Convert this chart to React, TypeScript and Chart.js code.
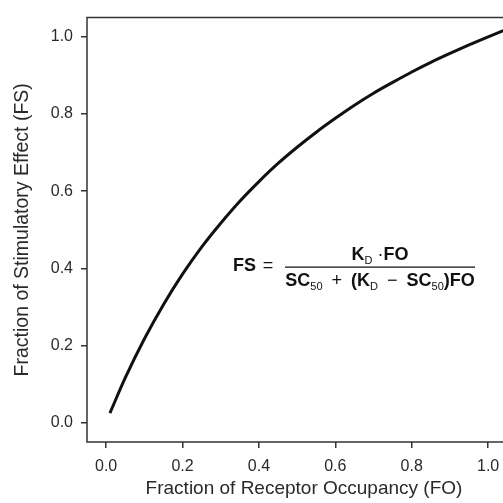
import React, { useEffect, useRef } from "react";
import { Chart, registerables } from "chart.js";

Chart.register(...registerables);

// Data
const FO_VALUES = [0.01, 0.05, 0.1, 0.15, 0.2, 0.25, 0.3, 0.35, 0.4, 0.45, 0.5, 0.55, 0.6, 0.65, 0.7, 0.75, 0.8, 0.85, 0.9, 0.95, 1.0, 1.05];
const FS_VALUES = [0.025, 0.116, 0.217, 0.306, 0.385, 0.455, 0.517, 0.574, 0.625, 0.672, 0.714, 0.753, 0.789, 0.823, 0.854, 0.882, 0.909, 0.934, 0.957, 0.979, 1.0, 1.02];
const X_TICKS = [0.0, 0.2, 0.4, 0.6, 0.8, 1.0];
const Y_TICKS = [0.0, 0.2, 0.4, 0.6, 0.8, 1.0];
const X_TITLE = "Fraction of Receptor Occupancy (FO)";
const Y_TITLE = "Fraction of Stimulatory Effect (FS)";
const ANNOT_POS = { x: 0.717, y: 0.403 };

const FONT = "'Liberation Sans', Arial, Helvetica, sans-serif";
const AXIS_COLOR = "#333333";
const TEXT_COLOR = "#2a2a2a";

type Piece = { t: string; f: string; dy?: number };

const BOLD = `bold 18px ${FONT}`;
const REG = `18px ${FONT}`;
const SUB = `11px ${FONT}`;

const NUMERATOR: Piece[] = [
  { t: "K", f: BOLD },
  { t: "D", f: SUB, dy: 4 },
  { t: " \u00b7", f: REG },
  { t: "FO", f: BOLD },
];
const DENOMINATOR: Piece[] = [
  { t: "SC", f: BOLD },
  { t: "50", f: SUB, dy: 4 },
  { t: "\u2002+\u2002", f: REG },
  { t: "(K", f: BOLD },
  { t: "D", f: SUB, dy: 4 },
  { t: "\u2002\u2212\u2002", f: REG },
  { t: "SC", f: BOLD },
  { t: "50", f: SUB, dy: 4 },
  { t: ")FO", f: BOLD },
];

function drawPieces(ctx: CanvasRenderingContext2D, pieces: Piece[], cx: number, baseline: number) {
  let total = 0;
  for (const p of pieces) {
    ctx.font = p.f;
    total += ctx.measureText(p.t).width;
  }
  let x = cx - total / 2;
  ctx.textAlign = "left";
  ctx.textBaseline = "alphabetic";
  for (const p of pieces) {
    ctx.font = p.f;
    ctx.fillText(p.t, x, baseline + (p.dy || 0));
    x += ctx.measureText(p.t).width;
  }
  return total;
}

const framePlugin = {
  id: "frameAndFormula",
  afterDatasetsDraw(chart: any) {
    const { ctx, chartArea, scales } = chart;
    ctx.save();
    // frame: left, top, bottom
    ctx.strokeStyle = AXIS_COLOR;
    ctx.lineWidth = 1.5;
    ctx.beginPath();
    ctx.moveTo(chartArea.right + 2, chartArea.top);
    ctx.lineTo(chartArea.left, chartArea.top);
    ctx.lineTo(chartArea.left, chartArea.bottom);
    ctx.lineTo(chartArea.right + 2, chartArea.bottom);
    ctx.stroke();

    // formula
    const cx = scales.x.getPixelForValue(ANNOT_POS.x);
    const cy = scales.y.getPixelForValue(ANNOT_POS.y);
    ctx.fillStyle = "#111111";
    drawPieces(ctx, NUMERATOR, cx, cy - 7);
    drawPieces(ctx, DENOMINATOR, cx, cy + 19);
    const half = 95;
    ctx.strokeStyle = "#111111";
    ctx.lineWidth = 1.3;
    ctx.beginPath();
    ctx.moveTo(cx - half, cy);
    ctx.lineTo(cx + half, cy);
    ctx.stroke();
    ctx.textAlign = "right";
    ctx.font = BOLD;
    ctx.fillText("FS", cx - half - 29, cy + 4);
    ctx.textAlign = "center";
    ctx.font = REG;
    ctx.fillText("=", cx - half - 17, cy + 4);
    ctx.restore();
  },
};

export default function App() {
  const ref = useRef<HTMLCanvasElement | null>(null);
  useEffect(() => {
    if (!ref.current) return;
    const chart = new Chart(ref.current, {
      type: "line",
      data: {
        datasets: [
          {
            data: FO_VALUES.map((v, i) => ({ x: v, y: FS_VALUES[i] })),
            borderColor: "#111111",
            borderWidth: 3,
            pointRadius: 0,
            fill: false,
            cubicInterpolationMode: "monotone",
          },
        ],
      },
      options: {
        animation: false,
        responsive: false,
        events: [],
        layout: { padding: { top: 12, right: 0, left: 0, bottom: 0 } },
        plugins: { legend: { display: false }, tooltip: { enabled: false } },
        scales: {
          x: {
            type: "linear",
            min: -0.05,
            max: 1.086,
            afterFit: (s: any) => { s.height = 61; },
            afterBuildTicks: (s: any) => { s.ticks = X_TICKS.map((v) => ({ value: v })); },
            border: { display: false },
            grid: { drawOnChartArea: false, drawTicks: true, tickLength: 6, color: AXIS_COLOR, lineWidth: 1.5 },
            ticks: {
              color: TEXT_COLOR,
              font: { family: FONT, size: 16 },
              padding: 9,
              maxRotation: 0,
              autoSkip: false,
              callback: (v: any) => Number(v).toFixed(1),
            },
            title: {
              display: true,
              text: X_TITLE,
              color: TEXT_COLOR,
              font: { family: FONT, size: 19 },
              padding: { top: 3, bottom: 3 },
            },
          },
          y: {
            type: "linear",
            min: -0.05,
            max: 1.05,
            afterFit: (s: any) => { s.width = 87; },
            afterBuildTicks: (s: any) => { s.ticks = Y_TICKS.map((v) => ({ value: v })); },
            border: { display: false },
            grid: { drawOnChartArea: false, drawTicks: true, tickLength: 6, color: AXIS_COLOR, lineWidth: 1.5 },
            ticks: {
              color: TEXT_COLOR,
              font: { family: FONT, size: 16 },
              padding: 8,
              autoSkip: false,
              callback: (v: any) => Number(v).toFixed(1),
            },
            title: {
              display: true,
              text: Y_TITLE,
              color: TEXT_COLOR,
              font: { family: FONT, size: 19.5 },
              padding: { top: 11, bottom: 11 },
            },
          },
        },
      },
      plugins: [framePlugin],
    } as any);
    return () => chart.destroy();
  }, []);
  return (
    <div style={{ position: "absolute", left: 0, top: 0, width: 503, height: 503, overflow: "hidden", background: "#fff" }}>
      <canvas ref={ref} width={521} height={503} style={{ display: "block" }} />
    </div>
  );
}
